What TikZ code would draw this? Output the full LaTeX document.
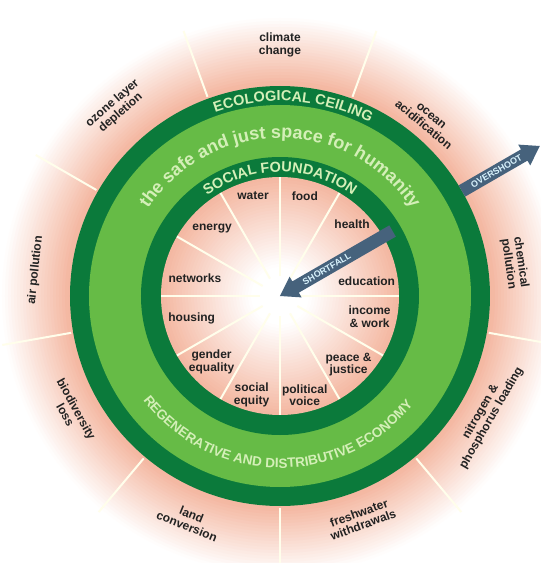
\documentclass[tikz,border=0pt]{standalone}
\usepackage{fontspec}
\setmainfont{Liberation Sans}
\usetikzlibrary{decorations.text}
\definecolor{ceiling}{HTML}{0B7A3B}
\definecolor{safe}{HTML}{66BB46}
\definecolor{blush}{HTML}{F4B8A2}
\definecolor{pale}{HTML}{D4EFB8}
\definecolor{slate}{HTML}{46627C}
\definecolor{ink}{HTML}{222222}

\begin{document}
\begin{tikzpicture}[x=1pt, y=1pt,
    L/.style={font=\bfseries\fontsize{12}{12.5}\selectfont,
      align=center, text=ink, inner sep=0pt},
    R/.style={decorate, decoration={text along path,
      text align=center, text color=pale}},
    W/.style={draw=white!92!yellow, line width=2pt},
    T/.style={font=\bfseries\fontsize{9}{9}\selectfont,
      text=white!85!cyan, rotate=30}]
  \useasboundingbox (-280,-267) rectangle (261,296);
  \foreach \rad in {290,287,...,209} {
    \pgfmathsetmacro\p{min(100,(280-\rad)*100/66)}
    \pgfmathsetmacro\p{max(0,\p)}
    \fill[blush!\p!white] (0,0) circle[radius=\rad pt];
  }
  \foreach \a in {110,70,...,-210}
    \draw[W] (\a:212) -- (\a:282);
  \fill[ceiling] (0,0) circle[radius=210pt];
  \fill[safe] (0,0) circle[radius=191pt];
  \fill[ceiling] (0,0) circle[radius=139pt];
  \foreach \rad in {119,116,...,20} {
    \pgfmathsetmacro\p{max(0,(\rad-30)*100/89)}
    \fill[blush!\p!white] (0,0) circle[radius=\rad pt];
  }
  \foreach \a in {0,30,...,330}
    \draw[W] (\a:20) -- (\a:119);

  \path[R, decoration={text={|\bfseries\fontsize{14.5}{15}\selectfont|ECOLOGICAL CEILING}}]
    (146:195) arc[start angle=146, end angle=26, radius=195pt];
  \path[R, decoration={text={|\bfseries\fontsize{18}{18}\selectfont|the safe and just space for humanity}}]
    (170:158) arc[start angle=170, end angle=10, radius=158pt];
  \path[R, decoration={text={|\bfseries\fontsize{14.5}{15}\selectfont|SOCIAL FOUNDATION}}]
    (160:124) arc[start angle=160, end angle=20, radius=124pt];
  \path[R, decoration={text={|\bfseries\fontsize{13.5}{14}\selectfont|REGENERATIVE AND DISTRIBUTIVE ECONOMY}}]
    (-156:172) arc[start angle=-156, end angle=-26, radius=172pt];

  \foreach \a/\rad/\txt [count=\i] in {105/104/water, 76/103/food,
      135/96/energy, 45/102/health, 168/87/networks, 10/88/education,
      194/91/housing, -13/92/{income\\\& work},
      224/95/{gender\\equality}, -45/97/{peace \&\\justice},
      254/103/{social\\equity}, -76/102/{political\\voice}}
    \node[L] (sf\i) at (\a:\rad) {\txt};

  \foreach \a/\rad/\txt [count=\i] in {90/251/{climate\\change},
      50/229/{ocean\\acidification}, 8/237/{chemical\\pollution},
      -30/238/{nitrogen \&\\phosphorus loading},
      -70/237/{freshwater\\withdrawals}, -112/242/{land\\conversion},
      -151/239/{biodiversity\\loss}, 174/246/{air pollution},
      131/249/{ozone layer\\depletion}} {
    \pgfmathsetmacro\rot{ifthenelse(\a>0,\a-90,\a+90)}
    \node[L, rotate=\rot] (pb\i) at (\a:\rad) {\txt};
  }

  \fill[slate, rotate=30] (0,0) -- (18,12) -- (18,6.5) -- (130,6.5)
    -- (130,-6.5) -- (18,-6.5) -- (18,-12) -- cycle;
  \node[T] (short) at (30:54) {SHORTFALL};
  \fill[slate, rotate=30] (210,6.5) -- (282,6.5) -- (282,12) -- (300,0)
    -- (282,-12) -- (282,-6.5) -- (210,-6.5) -- cycle;
  \node[T] (over) at (30:250) {OVERSHOOT};
\end{tikzpicture}
\end{document}
